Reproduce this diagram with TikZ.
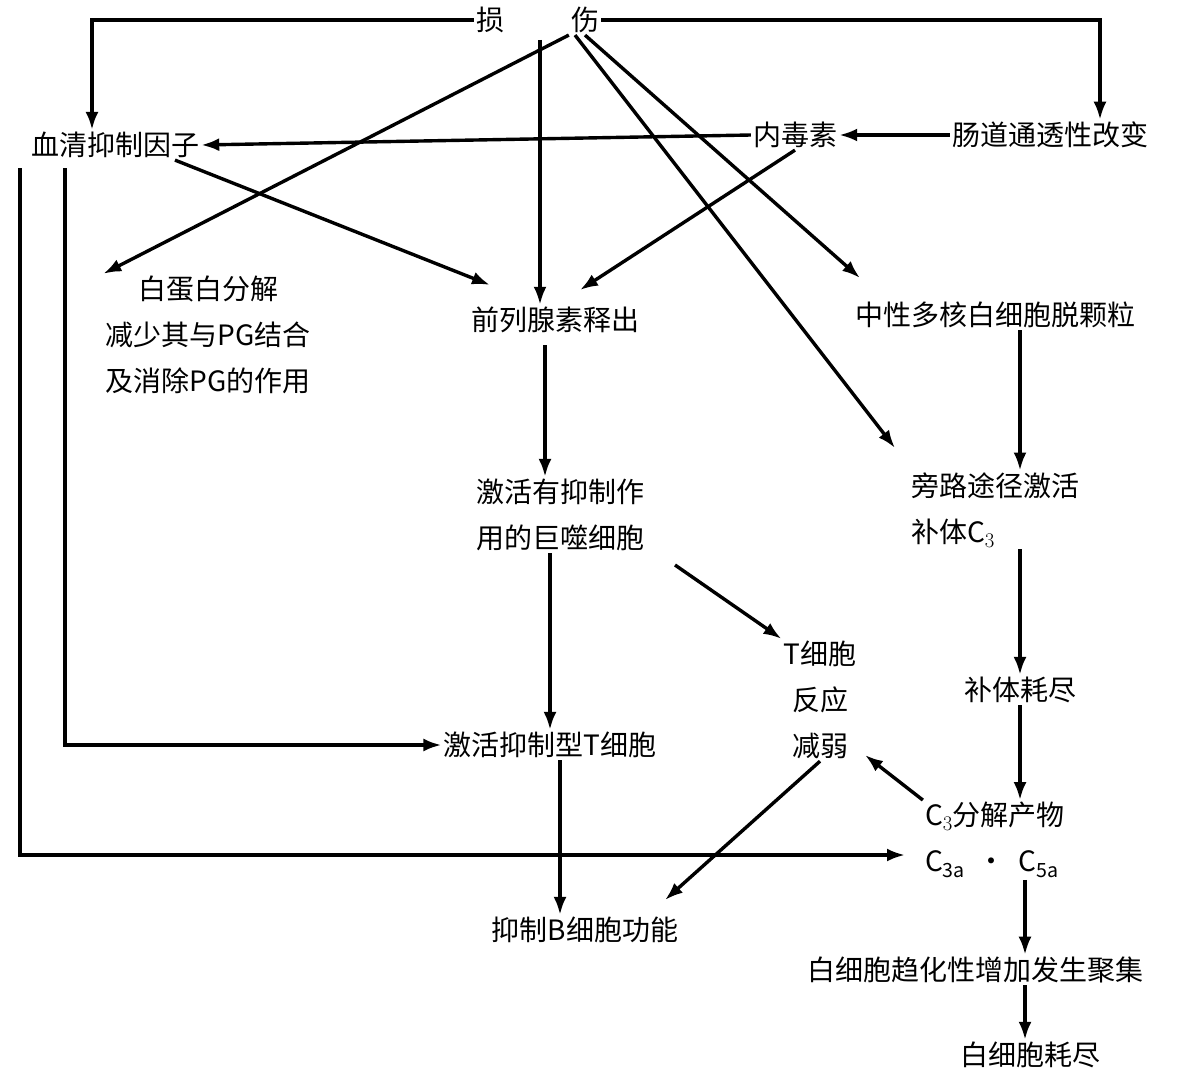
\documentclass[tikz,border=0pt]{standalone}
\usepackage{fontspec}
\setmainfont{Noto Sans CJK SC}
\usetikzlibrary{arrows.meta}
\begin{document}
\begin{tikzpicture}[x=1pt,y=-1pt,
  t/.style={font=\fontsize{28}{46}\selectfont,inner sep=2pt},
  ar/.style={line width=3.4pt,-{Latex[length=18pt,width=13pt]}}]
\useasboundingbox (0,0) rectangle (1190,1089);
\node[t] (s1) at (490,20) {损};
\node[t] (s2) at (585,20) {伤};
\node[t] (xq) at (115,145) {血清抑制因子};
\node[t] (nd) at (795,135) {内毒素};
\node[t] (cd) at (1050,135) {肠道通透性改变};
\node[t,align=center] (bd) at (208,335) {白蛋白分解\\减少其与PG结合\\及消除PG的作用};
\node[t] (ql) at (555,320) {前列腺素释出};
\node[t] (zx) at (995,315) {中性多核白细胞脱颗粒};
\node[t,align=center] (jh) at (560,515) {激活有抑制作\\用的巨噬细胞};
\node[t,align=left] (pl) at (995,510) {旁路途径激活\\补体C$_3$};
\node[t,align=center] (tc) at (820,700) {T细胞\\反应\\减弱};
\node[t] (bt) at (1020,690) {补体耗尽};
\node[t] (jy) at (550,745) {激活抑制型T细胞};
\node[t,align=left] (c3) at (995,840) {C$_3$分解产物\\C$_{\mathrm{3a}}$\ \ ·\ \ C$_{\mathrm{5a}}$};
\node[t] (yb) at (585,930) {抑制B细胞功能};
\node[t] (qh) at (975,970) {白细胞趋化性增加发生聚集};
\node[t] (hj) at (1030,1055) {白细胞耗尽};
\coordinate (cin) at (905,855);
\draw[ar] (s1.west) -| (xq.north -| 92,0);
\draw[ar] (s2.east) -| (cd.north -| 1100,0);
\draw[ar] (s2.south west) -- (bd.north west);
\draw[ar] (540,40) -- (ql.north -| 540,0);
\draw[ar] (s2.south) -- (860,278);
\draw[ar] (s2.south) ++(-10,0) -- (895,448);
\draw[ar] (cd.west) -- (nd.east);
\draw[ar] (nd.west) -- (xq.east);
\draw[ar] (nd.south) -- (580,290);
\draw[ar] (xq.south) ++(60,0) -- (490,285);
\draw[ar] (20,168) |- (cin);
\draw[ar] (65,168) |- (jy.west);
\draw[ar] (545,345) -- (jh.north -| 545,0);
\draw[ar] (jh.south -| 550,0) -- (jy.north -| 550,0);
\draw[ar] (675,565) -- (tc.north west);
\draw[ar] (jy.south -| 560,0) -- (yb.north -| 560,0);
\draw[ar] (tc.south) -- (665,900);
\draw[ar] (c3.north west) -- (865,755);
\draw[ar] (zx.south -| 1020,0) -- (pl.north -| 1020,0);
\draw[ar] (pl.south -| 1020,0) -- (bt.north -| 1020,0);
\draw[ar] (bt.south -| 1020,0) -- (c3.north -| 1020,0);
\draw[ar] (c3.south -| 1025,0) -- (qh.north -| 1025,0);
\draw[ar] (qh.south -| 1025,0) -- (hj.north -| 1025,0);
\end{tikzpicture}
\end{document}
